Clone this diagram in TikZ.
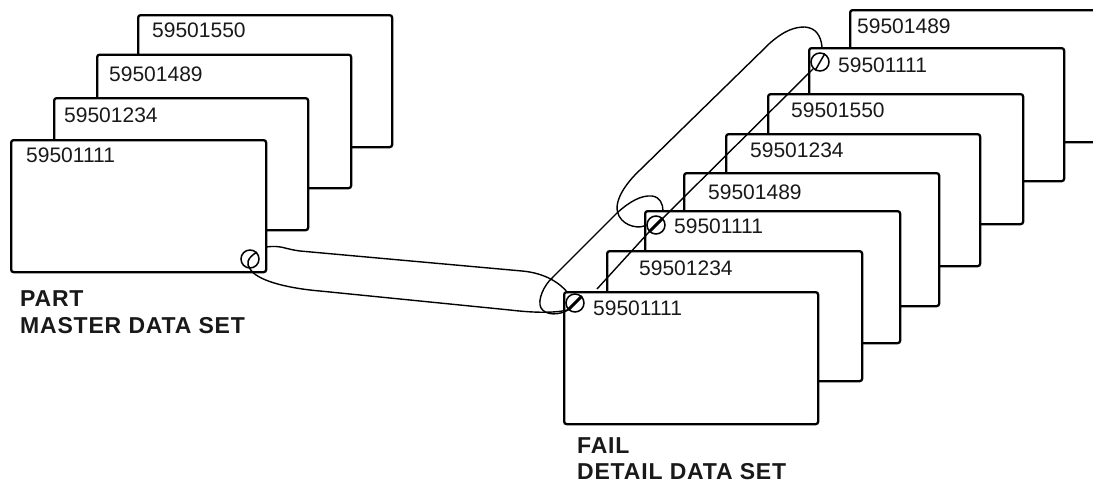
\documentclass[tikz,border=0pt]{standalone}
\usepackage{fontspec}
\setmainfont{Liberation Sans}
\newfontfamily\labfont[LetterSpace=3.5]{Liberation Sans Bold}
\begin{document}
\begin{tikzpicture}[x=1pt,y=-1pt,
  card/.style={draw=black,fill=white,line width=2.3pt,rounded corners=2.5pt,anchor=north west,inner sep=0pt,minimum width=254pt,minimum height=132pt},
  num/.style={anchor=base west,inner sep=0pt,font=\fontsize{21}{23}\selectfont,text=black!90},
  ttl/.style={anchor=base west,inner sep=0pt,font=\labfont\fontsize{23}{25}\selectfont,text=black!90},
  hole/.style={circle,draw=black,line width=1.5pt,minimum size=18pt,inner sep=0pt},
  slash/.style={line width=1.5pt},
  lk/.style={line width=1.4pt}]
\useasboundingbox (0,0) rectangle (1093,482);
\fill[white] (0,0) rectangle (1093,482);
% left stack
\node[card] (a4) at (137,14) {};
\node[card,minimum height=133.5pt] (a3) at (96,53.5) {};
\node[card] (a2) at (53,97) {};
\node[card,minimum width=255pt] (a1) at (10,139) {};
\node[num] (ta4) at (152,37) {59501550};
\node[num] (ta3) at (109,81) {59501489};
\node[num] (ta2) at (64,122) {59501234};
\node[num] (ta1) at (26,162) {59501111};
% right stack
\node[card,minimum width=300pt] (b8) at (849,9) {};
\node[card,minimum width=255pt,minimum height=133pt] (b7) at (808,47) {};
\node[card,minimum width=255pt,minimum height=130pt] (b6) at (767,93) {};
\node[card] (b5) at (725,133) {};
\node[card,minimum width=255pt,minimum height=133pt] (b4) at (683,172) {};
\node[card,minimum width=255pt] (b3) at (644,210) {};
\node[card,minimum width=255pt,minimum height=130pt] (b2) at (606,250) {};
\node[card,minimum height=132pt] (b1) at (563,291) {};
\node[num] (tb8) at (857,33) {59501489};
\node[num] (tb7) at (838,72) {59501111};
\node[num] (tb6) at (791,117) {59501550};
\node[num] (tb5) at (750,157) {59501234};
\node[num] (tb4) at (708,199) {59501489};
\node[num] (tb3) at (674,233) {59501111};
\node[num] (tb2) at (639,275) {59501234};
\node[num] (tb1) at (593,315) {59501111};
\node[ttl] (l1) at (20,306) {PART};
\node[ttl] (l2) at (20,333) {MASTER DATA SET};
\node[ttl] (l3) at (577,453) {FAIL};
\node[ttl] (l4) at (577,479) {DETAIL DATA SET};
% holes
\node[hole] (h0) at (250,259) {};
\node[hole] (h1) at (575,303) {};
\node[hole] (h2) at (656,225) {};
\node[hole] (h3) at (820,62) {};
\draw[slash] (h0.north east) .. controls (247,258) and (246,264) .. (h0.south);
\draw[line width=3pt] (h1.north east) -- (h1.south west);
\draw[line width=3pt] (h2.north east) -- (h2.south west);
\draw[slash] (h3.60) -- (h3.240);
% link master -> detail
\draw[lk] (266,247) .. controls (282,245) and (284,249) .. (300,251)
  -- (522,271) .. controls (545,273) and (560,283) .. (568,293);
\draw[lk] (h0.south) .. controls (256,280) and (285,288) .. (320,291)
  -- (510,310) .. controls (535,313) and (555,313) .. (h1.south west);
% oval 1
\draw[lk] (h1.south west) .. controls (560,315) and (546,316) .. (541,308)
  .. controls (537,300) and (544,285) .. (553,277)
  -- (617,213) .. controls (630,201) and (642,195) .. (652,196)
  .. controls (660,197) and (663,204) .. (663,211);
% oval 2
\draw[lk] (h2.west) .. controls (640,229) and (625,227) .. (619,216)
  .. controls (612,203) and (625,184) .. (640,170)
  -- (770,43) .. controls (785,30) and (795,27) .. (805,27)
  .. controls (816,28) and (821,36) .. (822,47);
% long line
\draw[lk] (597,289) -- (h2.south west);
\draw[lk] (h2.north east) -- (h3.south west);
\end{tikzpicture}
\end{document}
